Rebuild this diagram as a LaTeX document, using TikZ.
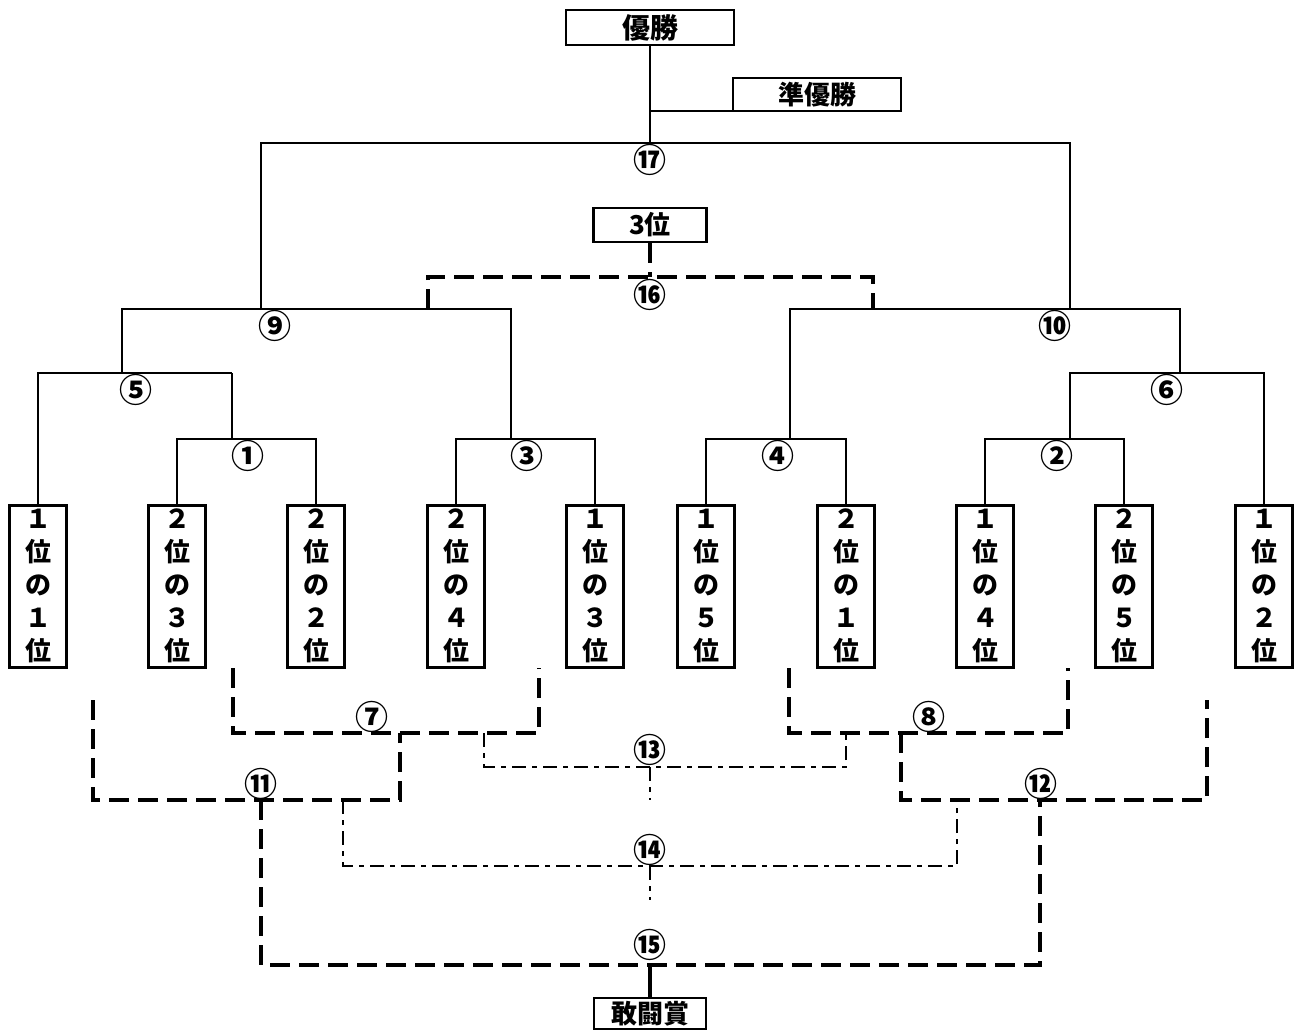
\documentclass[tikz,border=0pt]{standalone}
\usepackage{fontspec}
\setmainfont{Noto Sans CJK JP}
\begin{document}
\begin{tikzpicture}[x=1pt,y=-1pt,
  solidln/.style={line width=2.6pt},
  thickdash/.style={line width=4.5pt, dash pattern=on 20pt off 9pt},
  dashdot/.style={line width=2pt, dash pattern=on 14pt off 6pt on 5pt off 6pt},
  topbox/.style={draw, line width=2.8pt, fill=white, inner sep=0pt, font=\bfseries\fontsize{28}{30}\selectfont},
  player/.style={draw, line width=3pt, fill=white, inner sep=0pt, minimum width=57pt, minimum height=162pt, align=center, font=\bfseries\fontsize{26}{33}\selectfont},
  num/.style={inner sep=0pt, font=\bfseries\fontsize{33}{33}\selectfont}
]
\useasboundingbox (0,0) rectangle (1295,1030);

% top boxes
\node[topbox, minimum width=168pt, minimum height=35pt] (win) at (650,27.5) {優勝};
\node[topbox, minimum width=168pt, minimum height=33pt, font=\bfseries\fontsize{26}{28}\selectfont] (ru) at (817,94.5) {準優勝};
\node[topbox, minimum width=113pt, minimum height=34pt, font=\bfseries\fontsize{26}{28}\selectfont] (third) at (650,225) {3位};
\node[topbox, minimum width=112pt, minimum height=31pt, font=\bfseries\fontsize{26}{28}\selectfont] (kanto) at (650,1013.5) {敢闘賞};

% players
\node[player] (p1) at (38,586) {１\\位\\の\\１\\位};
\node[player] (p2) at (177,586) {２\\位\\の\\３\\位};
\node[player] (p3) at (316,586) {２\\位\\の\\２\\位};
\node[player] (p4) at (456,586) {２\\位\\の\\４\\位};
\node[player] (p5) at (595,586) {１\\位\\の\\３\\位};
\node[player] (p6) at (706,586) {１\\位\\の\\５\\位};
\node[player] (p7) at (846,586) {２\\位\\の\\１\\位};
\node[player] (p8) at (985,586) {１\\位\\の\\４\\位};
\node[player] (p9) at (1124,586) {２\\位\\の\\５\\位};
\node[player] (p10) at (1264,586) {１\\位\\の\\２\\位};

% solid bracket coordinates
\coordinate (a1) at (232,439);
\coordinate (a5) at (232,373);
\coordinate (b5) at (122,373);
\coordinate (a9) at (122,309);
\coordinate (b9) at (261,309);
\coordinate (c9) at (511,309);
\coordinate (a3) at (511,439);
\coordinate (a4) at (790,439);
\coordinate (a10) at (790,309);
\coordinate (b10) at (1070,309);
\coordinate (c10) at (1180,309);
\coordinate (a6) at (1180,373);
\coordinate (b6) at (1070,373);
\coordinate (a2) at (1070,439);
\coordinate (a17) at (261,143);
\coordinate (b17) at (650,143);
\coordinate (c17) at (1070,143);
\coordinate (ar) at (650,111);

\draw[solidln] (p2.north) |- (a1) -| (p3.north);
\draw[solidln] (a1) -- (a5);
\draw[solidln] (p1.north) |- (a5);
\draw[solidln] (b5) -- (a9) -- (c9) -- (a3);
\draw[solidln] (p4.north) |- (a3) -| (p5.north);
\draw[solidln] (p6.north) |- (a4) -| (p7.north);
\draw[solidln] (a4) -- (a10) -- (c10) -- (a6);
\draw[solidln] (p10.north) |- (a6) -- (b6) -- (a2);
\draw[solidln] (p8.north) |- (a2) -| (p9.north);
\draw[solidln] (b9) -- (a17) -- (c17) -- (b10);
\draw[solidln] (win.south) -- (b17);
\draw[solidln] (ar) -- (ar -| ru.west);

% third place bracket
\coordinate (d16) at (650,277);
\coordinate (e16l) at (428,309);
\coordinate (e16r) at (873,309);
\draw[thickdash] (third.south) -- (d16);
\draw[thickdash] (e16l) |- (d16) -| (e16r);

% losers brackets
\coordinate (f7l) at (233,668);
\coordinate (g7l) at (233,733);
\coordinate (g7r) at (539,733);
\coordinate (f7r) at (539,668);
\draw[thickdash] (f7l) -- (g7l) -- (g7r) -- (f7r);

\coordinate (f11l) at (93,700);
\coordinate (g11l) at (93,800);
\coordinate (g11r) at (400,800);
\coordinate (f11r) at (400,733);
\draw[thickdash] (f11l) -- (g11l) -- (g11r) -- (f11r);

\coordinate (f8l) at (789,668);
\coordinate (g8l) at (789,733);
\coordinate (g8r) at (1068,733);
\coordinate (f8r) at (1068,668);
\draw[thickdash] (f8l) -- (g8l) -- (g8r) -- (f8r);

\coordinate (f12l) at (901,733);
\coordinate (g12l) at (901,800);
\coordinate (g12r) at (1207,800);
\coordinate (f12r) at (1207,700);
\draw[thickdash] (f12l) -- (g12l) -- (g12r) -- (f12r);

\coordinate (f15l) at (261,800);
\coordinate (g15l) at (261,965);
\coordinate (g15m) at (650,965);
\coordinate (g15r) at (1040,965);
\coordinate (f15r) at (1040,800);
\draw[thickdash] (f15l) -- (g15l) -- (g15r) -- (f15r);
\draw[line width=4.5pt] (g15m) -- (kanto.north);

% dash-dot brackets
\coordinate (f13l) at (484,733);
\coordinate (g13l) at (484,767);
\coordinate (g13m) at (650,767);
\coordinate (g13r) at (846,767);
\coordinate (f13r) at (846,733);
\coordinate (h13) at (650,800);
\draw[dashdot] (f13l) -- (g13l) -- (g13r) -- (f13r);
\draw[dashdot] (g13m) -- (h13);

\coordinate (f14l) at (343,800);
\coordinate (g14l) at (343,866);
\coordinate (g14m) at (650,866);
\coordinate (g14r) at (957,866);
\coordinate (f14r) at (957,800);
\coordinate (h14) at (650,900);
\draw[dashdot] (f14l) -- (g14l) -- (g14r) -- (f14r);
\draw[dashdot] (g14m) -- (h14);

% match numbers
\node[num] (n17) at (650,160) {⑰};
\node[num] (n16) at (650,295) {⑯};
\node[num] (n9) at (275,326) {⑨};
\node[num] (n10) at (1055,326) {⑩};
\node[num] (n5) at (136,390) {⑤};
\node[num] (n6) at (1167,390) {⑥};
\node[num] (n1) at (248,456) {①};
\node[num] (n3) at (527,456) {③};
\node[num] (n4) at (778,456) {④};
\node[num] (n2) at (1057,456) {②};
\node[num] (n7) at (372,717) {⑦};
\node[num] (n8) at (929,717) {⑧};
\node[num] (n11) at (261,784) {⑪};
\node[num] (n12) at (1041,784) {⑫};
\node[num] (n13) at (650,750) {⑬};
\node[num] (n14) at (650,850) {⑭};
\node[num] (n15) at (650,945) {⑮};
\end{tikzpicture}
\end{document}
